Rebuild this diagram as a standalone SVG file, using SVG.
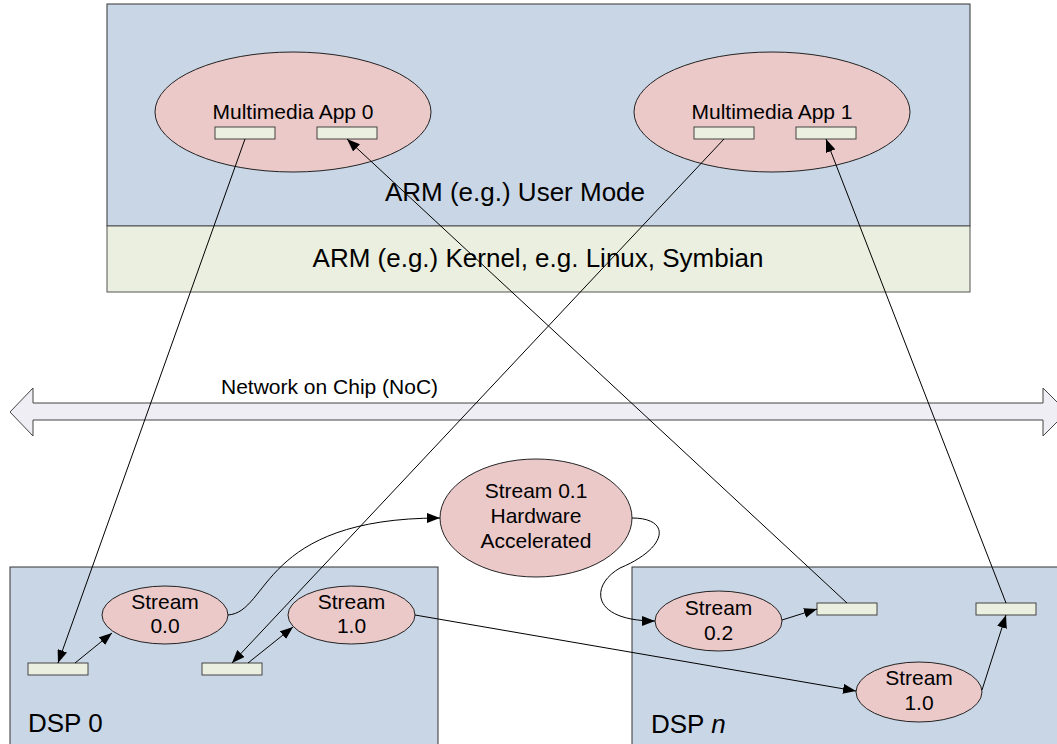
<svg xmlns="http://www.w3.org/2000/svg" width="1057" height="744" viewBox="0 0 1057 744">
<style>
  text { font-family: "Liberation Sans", Arial, sans-serif; fill: #000; }
  .big { font-size: 26px; }
  .mid { font-size: 21px; }
  .c { text-anchor: middle; }
  .blue { fill: #c8d6e6; stroke: #333; stroke-width: 1; }
  .kern { fill: #ebefdf; stroke: #555; stroke-width: 1; }
  .ell { fill: #ecc9c9; stroke: #222; stroke-width: 1; }
  .port { fill: #ebefdf; stroke: #444; stroke-width: 1; }
  .noc { fill: #efeef5; stroke: #444; stroke-width: 1; }
  .conn { fill: none; stroke: #000; stroke-width: 1; }
</style>
<defs>
  <marker id="ah" markerUnits="userSpaceOnUse" markerWidth="13" markerHeight="10" refX="13" refY="5" orient="auto">
    <path d="M0,0 L13,5 L0,10 z" fill="#000"/>
  </marker>
</defs>
<rect width="1057" height="744" fill="#fff"/>

<g id="arm">
  <rect class="blue" x="107" y="4" width="863" height="222"/>
  <rect class="kern" x="107" y="226" width="863" height="66"/>
  <text class="big c" x="515" y="201">ARM (e.g.) User Mode</text>
  <text class="big c" x="538" y="267">ARM (e.g.) Kernel, e.g. Linux, Symbian</text>
</g>

<g id="app0">
  <ellipse class="ell" cx="293" cy="112" rx="138" ry="60"/>
  <text class="mid c" x="293" y="119">Multimedia App 0</text>
  <rect class="port" x="215" y="127" width="60" height="12"/>
  <rect class="port" x="317" y="127" width="60" height="12"/>
</g>

<g id="app1">
  <ellipse class="ell" cx="772" cy="112" rx="138" ry="60"/>
  <text class="mid c" x="772" y="119">Multimedia App 1</text>
  <rect class="port" x="694" y="127" width="60" height="12"/>
  <rect class="port" x="796" y="127" width="60" height="12"/>
</g>

<g id="noc">
  <polygon class="noc" points="10,412 33,388 33,403 1043,403 1043,388 1067,412 1043,436 1043,420 33,420 33,436"/>
  <text class="mid" x="221" y="394">Network on Chip (NoC)</text>
</g>

<g id="dsp0">
  <rect class="blue" x="10" y="567" width="428" height="190"/>
  <text class="big" x="28" y="732">DSP 0</text>
  <rect class="port" x="28" y="663" width="60" height="12"/>
  <rect class="port" x="202" y="663" width="60" height="12"/>
</g>

<g id="stream00">
  <ellipse class="ell" cx="165" cy="615" rx="63" ry="29"/>
  <text class="mid c" x="165" y="609">Stream</text>
  <text class="mid c" x="165" y="633">0.0</text>
</g>

<g id="stream10a">
  <ellipse class="ell" cx="351.5" cy="615" rx="63.5" ry="29"/>
  <text class="mid c" x="351.5" y="609">Stream</text>
  <text class="mid c" x="351.5" y="633">1.0</text>
</g>

<g id="stream01">
  <ellipse class="ell" cx="536" cy="518" rx="96" ry="59"/>
  <text class="mid c" x="536" y="498">Stream 0.1</text>
  <text class="mid c" x="536" y="523">Hardware</text>
  <text class="mid c" x="536" y="548">Accelerated</text>
</g>

<g id="dspn">
  <rect class="blue" x="632" y="567" width="440" height="190"/>
  <text class="big" x="651" y="733">DSP <tspan font-style="italic">n</tspan></text>
  <rect class="port" x="817" y="603" width="60" height="12"/>
  <rect class="port" x="976" y="603" width="60" height="12"/>
</g>

<g id="stream02">
  <ellipse class="ell" cx="718.5" cy="621" rx="63.5" ry="30"/>
  <text class="mid c" x="718.5" y="615">Stream</text>
  <text class="mid c" x="718.5" y="640">0.2</text>
</g>

<g id="stream10b">
  <ellipse class="ell" cx="919" cy="692" rx="63" ry="30"/>
  <text class="mid c" x="919" y="685">Stream</text>
  <text class="mid c" x="919" y="710">1.0</text>
</g>

<g id="connectors">
  <line class="conn" x1="245" y1="139" x2="58" y2="663" marker-end="url(#ah)"/>
  <line class="conn" x1="724" y1="139" x2="232" y2="663" marker-end="url(#ah)"/>
  <line class="conn" x1="847" y1="603" x2="347" y2="139" marker-end="url(#ah)"/>
  <line class="conn" x1="1006" y1="603" x2="826" y2="139" marker-end="url(#ah)"/>
  <line class="conn" x1="75" y1="663" x2="112" y2="633" marker-end="url(#ah)"/>
  <line class="conn" x1="248" y1="663" x2="293" y2="627" marker-end="url(#ah)"/>
  <path class="conn" d="M228,615 C270,612 260,518 440,518" marker-end="url(#ah)"/>
  <path class="conn" d="M632,518 C672,518 668,548 620,568 C590,585 590,621 655,621" marker-end="url(#ah)"/>
  <line class="conn" x1="782" y1="620" x2="817" y2="609" marker-end="url(#ah)"/>
  <line class="conn" x1="415" y1="615" x2="856" y2="691" marker-end="url(#ah)"/>
  <line class="conn" x1="982" y1="690" x2="1006" y2="615" marker-end="url(#ah)"/>
</g>
</svg>
